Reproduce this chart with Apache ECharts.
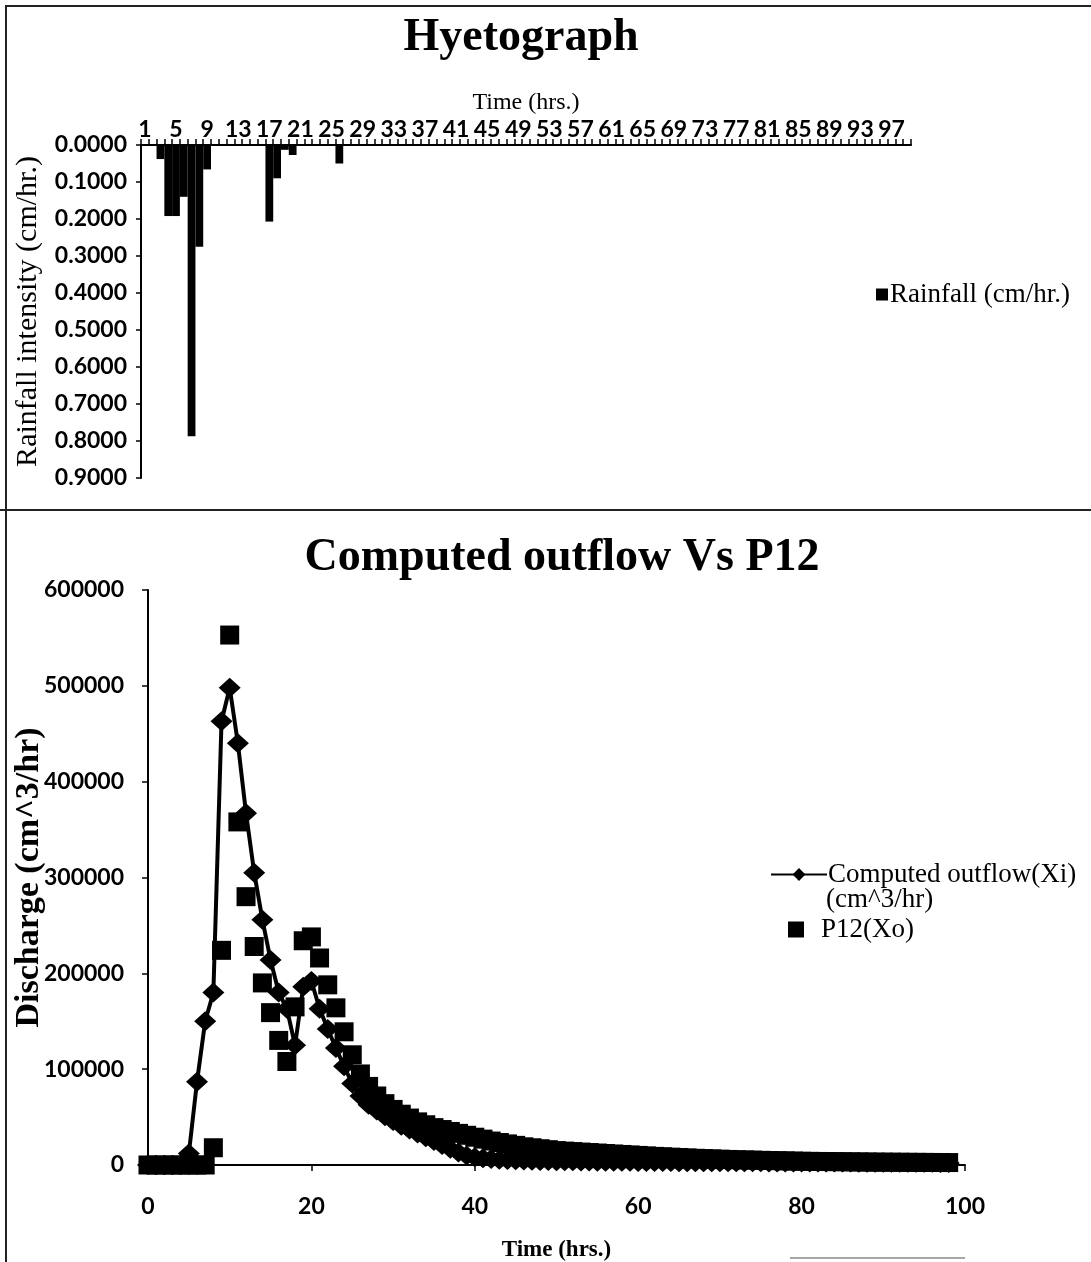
<!DOCTYPE html>
<html>
<head>
<meta charset="utf-8">
<script src="https://cdn.jsdelivr.net/npm/echarts@6/dist/echarts.min.js"></script>
<style>
html, body { margin: 0; padding: 0; background: #fff; }
#chart { width: 1091px; height: 1262px; }
</style>
</head>
<body>
<div id="chart"></div>
<script>
// hyetograph: hourly rainfall, hours 1..99
var rainHours = []
for (var h = 1; h <= 99; h++) rainHours.push(String(h))
var rainfall = [
  0, 0, 0.038, 0.192, 0.192, 0.14, 0.787, 0.275, 0.066, 0,
  0, 0, 0, 0, 0, 0, 0.207, 0.09, 0.013, 0.027,
  0, 0, 0, 0, 0, 0.05, 0, 0, 0, 0,
  0, 0, 0, 0, 0, 0, 0, 0, 0, 0,
  0, 0, 0, 0, 0, 0, 0, 0, 0, 0,
  0, 0, 0, 0, 0, 0, 0, 0, 0, 0,
  0, 0, 0, 0, 0, 0, 0, 0, 0, 0,
  0, 0, 0, 0, 0, 0, 0, 0, 0, 0,
  0, 0, 0, 0, 0, 0, 0, 0, 0, 0,
  0, 0, 0, 0, 0, 0, 0, 0, 0
]

// outflow chart, time 0..98 hrs
var computedOutflow = [
  0, 0, 0, 0, 0, 12000, 87000, 150000, 180000, 463000,
  498000, 440000, 367000, 305000, 256000, 214000, 180000, 163000, 125000, 186000,
  192000, 163000, 142000, 122000, 103000, 85000, 72000, 63000, 57000, 51000,
  46000, 41000, 37000, 33000, 29000, 25000, 21000, 17000, 13000, 10000,
  8000, 7000, 6200, 5600, 5200, 4900, 4700, 4500, 4300, 4100,
  4000, 3900, 3800, 3700, 3600, 3500, 3450, 3400, 3350, 3300,
  3250, 3200, 3150, 3100, 3050, 3000, 2980, 2950, 2920, 2900,
  2880, 2850, 2820, 2800, 2780, 2750, 2720, 2700, 2680, 2650,
  2620, 2600, 2580, 2550, 2520, 2500, 2480, 2450, 2420, 2400,
  2380, 2350, 2320, 2300, 2280, 2250, 2220, 2200, 2180
]
var p12 = [
  0, 0, 0, 0, 0, 0, 0, 0, 18000, 224000,
  553000, 358000, 280000, 228000, 190000, 159000, 130000, 108000, 165000, 234000,
  238000, 216000, 188000, 164000, 139000, 115000, 95000, 82000, 72000, 64000,
  58000, 53000, 49000, 45000, 42000, 39000, 37000, 35000, 33000, 31000,
  29000, 27000, 25000, 23500, 22000, 20500, 19000, 18000, 17000, 16000,
  15000, 14500, 14000, 13500, 13000, 12500, 12000, 11500, 11000, 10500,
  10000, 9500, 9000, 8600, 8200, 7800, 7400, 7000, 6700, 6400,
  6100, 5800, 5500, 5300, 5100, 4900, 4700, 4500, 4300, 4100,
  3900, 3800, 3700, 3600, 3500, 3400, 3300, 3200, 3100, 3000,
  2950, 2900, 2850, 2800, 2750, 2700, 2650, 2600, 2550
]

var serif = 'Liberation Serif'
var sans = 'Lato'

function pairs(arr) {
  return arr.map(function (v, i) { return [i, v] })
}

var tickLabel = { color: '#000', fontFamily: sans, fontWeight: 'bold', fontSize: 23 }
var blackLine = { lineStyle: { color: '#000', width: 2 } }
var legendText = { fontFamily: serif, fontSize: 27, color: '#000' }

var chart = echarts.init(document.getElementById('chart'))
chart.setOption({
  animation: false,
  backgroundColor: '#fff',
  title: [
    {
      text: 'Hyetograph',
      left: 516,
      top: 10,
      textAlign: 'center',
      textStyle: { fontFamily: serif, fontWeight: 'bold', fontSize: 46, color: '#000' }
    },
    {
      text: 'Computed outflow Vs P12',
      left: 557,
      top: 530,
      textAlign: 'center',
      textStyle: { fontFamily: serif, fontWeight: 'bold', fontSize: 46, color: '#000' }
    }
  ],
  legend: [
    {
      data: ['Rainfall (cm/hr.)'],
      left: 871,
      top: 276,
      icon: 'rect',
      itemWidth: 12,
      itemHeight: 12,
      textStyle: Object.assign({ padding: [0, 0, 0, -3] }, legendText)
    },
    {
      data: ['Computed outflow(Xi)\n(cm^3/hr)'],
      left: 765,
      top: 856,
      itemWidth: 56,
      itemHeight: 16,
      formatter: function (name) { return name.split('\n')[0] },
      textStyle: Object.assign({ padding: [0, 0, 0, -4] }, legendText)
    },
    {
      data: ['P12(Xo)'],
      left: 783,
      top: 911,
      icon: 'rect',
      itemWidth: 16,
      itemHeight: 16,
      textStyle: Object.assign({ padding: [0, 0, 0, 12] }, legendText)
    }
  ],
  grid: [
    { left: 141, top: 145, width: 770, height: 333, containLabel: false, outerBoundsMode: 'none' },
    { left: 148, top: 590, width: 817, height: 575, containLabel: false, outerBoundsMode: 'none' }
  ],
  xAxis: [
    {
      gridIndex: 0,
      type: 'category',
      position: 'top',
      data: rainHours,
      name: 'Time (hrs.)',
      nameLocation: 'middle',
      nameGap: 30,
      nameMoveOverlap: false,
      nameTextStyle: { fontFamily: serif, fontSize: 24, color: '#000' },
      axisLine: blackLine,
      axisTick: { show: true, inside: false, interval: 0, length: 6, lineStyle: { color: '#000', width: 1.5 } },
      axisLabel: Object.assign({ interval: 3, margin: 4 }, tickLabel),
      splitLine: { show: false }
    },
    {
      gridIndex: 1,
      type: 'value',
      min: 0,
      max: 100,
      interval: 20,
      name: 'Time (hrs.)',
      nameLocation: 'middle',
      nameGap: 74,
      nameMoveOverlap: false,
      nameTextStyle: { fontFamily: serif, fontWeight: 'bold', fontSize: 23, color: '#000' },
      axisLine: blackLine,
      axisTick: { length: 6, lineStyle: { color: '#000', width: 1.5 } },
      axisLabel: Object.assign({ margin: 30 }, tickLabel),
      splitLine: { show: false }
    }
  ],
  yAxis: [
    {
      gridIndex: 0,
      type: 'value',
      inverse: true,
      min: 0,
      max: 0.9,
      interval: 0.1,
      name: 'Rainfall intensity (cm/hr.)',
      nameLocation: 'middle',
      nameRotate: 90,
      nameGap: 98,
      nameMoveOverlap: false,
      nameTextStyle: { fontFamily: serif, fontSize: 30, color: '#000' },
      axisLine: { show: true, lineStyle: { color: '#000', width: 2 } },
      axisTick: { show: true, length: 5, lineStyle: { color: '#000', width: 1.5 } },
      axisLabel: Object.assign({
        margin: 14,
        formatter: function (v) { return v.toFixed(4) }
      }, tickLabel),
      splitLine: { show: false }
    },
    {
      gridIndex: 1,
      type: 'value',
      min: 0,
      max: 600000,
      interval: 100000,
      name: 'Discharge (cm^3/hr)',
      nameLocation: 'middle',
      nameRotate: 90,
      nameGap: 102,
      nameMoveOverlap: false,
      nameTextStyle: { fontFamily: serif, fontWeight: 'bold', fontSize: 34, color: '#000' },
      axisLine: { show: true, lineStyle: { color: '#000', width: 2 } },
      axisTick: { show: true, length: 6, lineStyle: { color: '#000', width: 1.5 } },
      axisLabel: Object.assign({
        margin: 24,
        formatter: function (v) { return String(v) }
      }, tickLabel),
      splitLine: { show: false }
    }
  ],
  series: [
    {
      name: 'Rainfall (cm/hr.)',
      type: 'bar',
      xAxisIndex: 0,
      yAxisIndex: 0,
      data: rainfall,
      barCategoryGap: '0%',
      itemStyle: { color: '#000' }
    },
    {
      name: 'Computed outflow(Xi)\n(cm^3/hr)',
      type: 'line',
      xAxisIndex: 1,
      yAxisIndex: 1,
      data: pairs(computedOutflow),
      symbol: 'diamond',
      symbolSize: [22, 20],
      lineStyle: { color: '#000', width: 4 },
      itemStyle: { color: '#000' },
      z: 2
    },
    {
      name: 'P12(Xo)',
      type: 'scatter',
      xAxisIndex: 1,
      yAxisIndex: 1,
      data: pairs(p12),
      symbol: 'rect',
      symbolSize: 19,
      itemStyle: { color: '#000', opacity: 1 },
      z: 3
    }
  ],
  graphic: [
    { type: 'line', shape: { x1: 5, y1: 6, x2: 1091, y2: 6 }, style: { stroke: '#222', lineWidth: 2 } },
    { type: 'line', shape: { x1: 6, y1: 5, x2: 6, y2: 1262 }, style: { stroke: '#222', lineWidth: 2 } },
    { type: 'line', shape: { x1: 0, y1: 510, x2: 1091, y2: 510 }, style: { stroke: '#222', lineWidth: 2 } },
    { type: 'line', shape: { x1: 790, y1: 1258, x2: 965, y2: 1258 }, style: { stroke: '#888', lineWidth: 1.5 } },
    // second line of the computed outflow legend entry
    {
      type: 'text',
      left: 826,
      top: 886,
      style: { text: '(cm^3/hr)', font: '27px "Liberation Serif"', fill: '#000' }
    }
  ]
})
</script>
</body>
</html>
